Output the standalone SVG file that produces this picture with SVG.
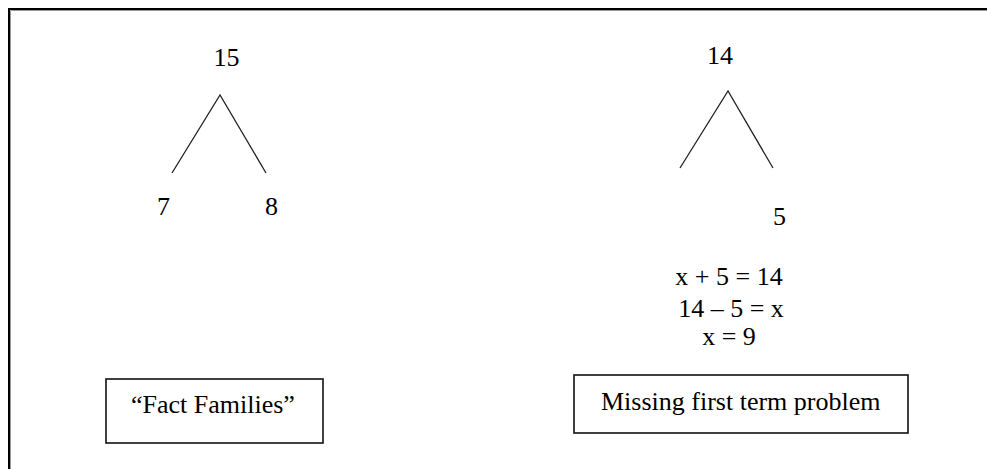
<svg xmlns="http://www.w3.org/2000/svg" width="987" height="469" viewBox="0 0 987 469">
<style>
text{font-family:"Liberation Serif","Times New Roman",serif;font-size:26px;fill:#000}
.b{fill:#fff;stroke:#111;stroke-width:1.6}
.e{stroke:#222;stroke-width:1.3;fill:none}
</style>
<rect width="987" height="469" fill="#fff"/>
<path d="M10.5,469 V10.5 H987" fill="none" stroke="#999" stroke-width="1"/>
<path d="M9,469 V9 H987" fill="none" stroke="#000" stroke-width="2"/>
<g id="n15"><text x="226.5" y="66" text-anchor="middle">15</text></g>
<g id="n7"><text x="157" y="215">7</text></g>
<g id="n8"><text x="265" y="215">8</text></g>
<g id="n14"><text x="720" y="64" text-anchor="middle">14</text></g>
<g id="n5"><text x="773" y="225">5</text></g>
<g id="eqs">
<text x="729" y="285" text-anchor="middle">x + 5 = 14</text>
<text x="731" y="317" text-anchor="middle">14 – 5 = x</text>
<text x="729" y="345" text-anchor="middle">x = 9</text>
</g>
<g id="fact"><rect class="b" x="106" y="379" width="217" height="64"/><text x="131" y="413">“Fact Families”</text></g>
<g id="missing"><rect class="b" x="574" y="375" width="334" height="58"/><text x="601" y="410">Missing first term problem</text></g>
<g id="connectors">
<path class="e" d="M172,173 L220,95 L266,173"/>
<path class="e" d="M680,168 L728,91 L773,168"/>
</g>
</svg>
